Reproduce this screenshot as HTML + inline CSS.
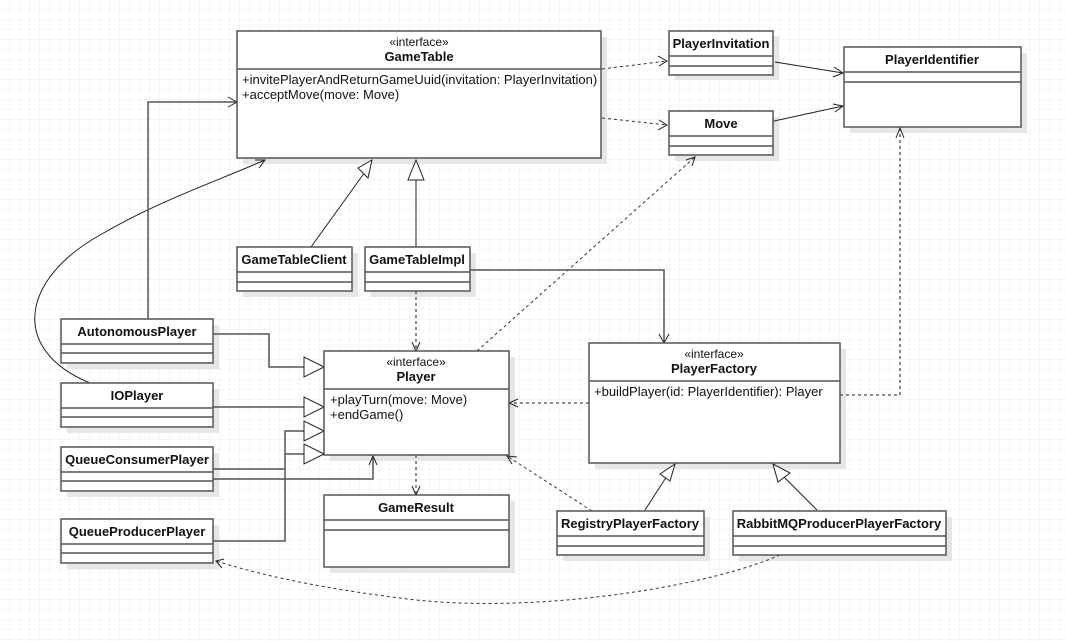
<!DOCTYPE html>
<html><head><meta charset="utf-8"><style>
html,body{margin:0;padding:0;background:#fff}
svg{display:block}
text{font-family:"Liberation Sans",Arial,sans-serif;font-size:13px;fill:#111}
.b{font-weight:bold;text-anchor:middle;font-size:13px}
.c{text-anchor:middle;font-size:12px}
.box{fill:#fff;stroke:#555;stroke-width:1.5}
.sh{fill:#e6e6e6}
.ln{stroke:#555;stroke-width:1.5}
.s{fill:none;stroke:#222;stroke-width:1}
.d{fill:none;stroke:#333;stroke-width:1;stroke-dasharray:3,3}
.d2{fill:none;stroke:#666;stroke-width:1.5;stroke-dasharray:3,3}
.tri{fill:#fff;stroke:#222;stroke-width:1}
</style></head><body>
<svg width="1065" height="641" viewBox="0 0 1065 641">
<defs>
<pattern id="g" width="10" height="10" patternUnits="userSpaceOnUse">
<path d="M10 0V10H0" fill="none" stroke="#ececec" stroke-width="1"/>
</pattern>
</defs>
<rect width="1065" height="641" fill="url(#g)"/>

<g class="sh">
<rect x="243" y="37" width="364" height="127"/>
<rect x="675" y="36" width="104" height="44"/>
<rect x="675" y="117" width="104" height="44"/>
<rect x="850" y="53" width="177" height="80"/>
<rect x="243" y="253" width="115" height="44"/>
<rect x="371" y="253" width="105" height="44"/>
<rect x="67" y="325" width="152" height="44"/>
<rect x="67" y="389" width="152" height="44"/>
<rect x="67" y="453" width="152" height="44"/>
<rect x="67" y="525" width="152" height="44"/>
<rect x="330" y="357" width="185" height="104"/>
<rect x="330" y="501" width="185" height="72"/>
<rect x="595" y="349" width="251" height="120"/>
<rect x="563" y="517" width="147" height="44"/>
<rect x="739" y="517" width="213" height="44"/>
</g>

<path class="d" d="M602 69 L667 61"/><path class="s" d="M658 56 L667 61 L659 66"/>
<path class="d" d="M602 118 L667 125"/><path class="s" d="M659 120 L667 125 L658 130"/>
<path class="s" d="M775 62 L843 73"/><path class="s" d="M834 67 L843 73 L833 77"/>
<path class="s" d="M774 121 L843 106"/><path class="s" d="M833 104 L843 106 L835 112"/>
<path class="d2" d="M840 395 L900 395 L900 129"/><path class="s" d="M896 138 L900 128 L904 138"/>
<path class="d" d="M477 351 L695 157"/><path class="s" d="M686 160 L695 157 L692 166"/>
<path class="d" d="M592 511 L507 456"/><path class="s" d="M512 464 L507 456 L517 457"/>
<path class="d" d="M780 555 C700 590 520 615 400 598 C320 588 260 575 216 561"/><path class="s" d="M224 559 L216 561 L222 568"/>
<path class="s" d="M90 383 C10 350 20 280 100 235 C160 200 220 180 265 160"/><path class="s" d="M255 160 L265 160 L259 168"/>
<path class="ln" d="M148 319 L148 102 L236 102" fill="none"/><path class="s" d="M228 97 L237 102 L228 107"/>
<path class="d2" d="M416 291 L416 350"/><path class="s" d="M412 342 L416 351 L420 342"/>
<path class="ln" d="M470 270 L664 270 L664 342" fill="none"/><path class="s" d="M659 334 L664 343 L669 334"/>
<path class="d2" d="M589 403 L510 403"/><path class="s" d="M518 399 L509 403 L518 407"/>
<path class="d2" d="M416 455 L416 494"/><path class="s" d="M412 486 L416 495 L420 486"/>
<path class="s" d="M311 247 L365 172"/><polygon class="tri" points="372,160 358,168 368,178"/>
<path class="s" d="M416 247 L416 180"/><polygon class="tri" points="416,160 408,180 424,180"/>
<path class="s" d="M645 510 L667 476"/><polygon class="tri" points="675,464 660,474 670,481"/>
<path class="s" d="M817 510 L783 476"/><polygon class="tri" points="773,464 778,482 790,473"/>
<path class="ln" d="M213 334 L269 334 L269 367 L304 367" fill="none"/>
<path class="ln" d="M213 407 L304 407" fill="none"/>
<path class="ln" d="M213 541 L285 541 L285 431 L304 431" fill="none"/>
<path class="ln" d="M213 469 L285 469 M285 454 L304 454" fill="none"/>
<path class="ln" d="M213 479 L373 479 L373 456" fill="none"/><path class="s" d="M369 465 L373 456 L377 465"/>
<polygon class="tri" points="324,367 304,357 304,377"/>
<polygon class="tri" points="324,407 304,397 304,417"/>
<polygon class="tri" points="324,431 304,421 304,441"/>
<polygon class="tri" points="324,454 304,444 304,464"/>

<rect class="box" x="237" y="31" width="364" height="127"/>
<line class="ln" x1="237" y1="69" x2="601" y2="69"/>
<text class="c" x="419" y="46">«interface»</text>
<text class="b" x="419" y="61">GameTable</text>
<text x="242" y="84">+invitePlayerAndReturnGameUuid(invitation: PlayerInvitation)</text>
<text x="242" y="99">+acceptMove(move: Move)</text>

<rect class="box" x="669" y="31" width="104" height="44"/>
<line class="ln" x1="669" y1="56" x2="773" y2="56"/><line class="ln" x1="669" y1="66" x2="773" y2="66"/>
<text class="b" x="721" y="48">PlayerInvitation</text>
<rect class="box" x="669" y="111" width="104" height="44"/>
<line class="ln" x1="669" y1="136" x2="773" y2="136"/><line class="ln" x1="669" y1="146" x2="773" y2="146"/>
<text class="b" x="721" y="128">Move</text>
<rect class="box" x="844" y="47" width="177" height="80"/>
<line class="ln" x1="844" y1="72" x2="1021" y2="72"/><line class="ln" x1="844" y1="82" x2="1021" y2="82"/>
<text class="b" x="932" y="64">PlayerIdentifier</text>

<rect class="box" x="237" y="247" width="115" height="44"/>
<line class="ln" x1="237" y1="272" x2="352" y2="272"/><line class="ln" x1="237" y1="282" x2="352" y2="282"/>
<text class="b" x="294" y="264">GameTableClient</text>
<rect class="box" x="365" y="247" width="105" height="44"/>
<line class="ln" x1="365" y1="272" x2="470" y2="272"/><line class="ln" x1="365" y1="282" x2="470" y2="282"/>
<text class="b" x="417" y="264">GameTableImpl</text>

<rect class="box" x="61" y="319" width="152" height="44"/>
<line class="ln" x1="61" y1="344" x2="213" y2="344"/><line class="ln" x1="61" y1="353" x2="213" y2="353"/>
<text class="b" x="137" y="336">AutonomousPlayer</text>
<rect class="box" x="61" y="383" width="152" height="44"/>
<line class="ln" x1="61" y1="408" x2="213" y2="408"/><line class="ln" x1="61" y1="417" x2="213" y2="417"/>
<text class="b" x="137" y="400">IOPlayer</text>
<rect class="box" x="61" y="447" width="152" height="44"/>
<line class="ln" x1="61" y1="472" x2="213" y2="472"/><line class="ln" x1="61" y1="481" x2="213" y2="481"/>
<text class="b" x="137" y="464">QueueConsumerPlayer</text>
<rect class="box" x="61" y="519" width="152" height="44"/>
<line class="ln" x1="61" y1="544" x2="213" y2="544"/><line class="ln" x1="61" y1="553" x2="213" y2="553"/>
<text class="b" x="137" y="536">QueueProducerPlayer</text>

<rect class="box" x="324" y="351" width="185" height="104"/>
<line class="ln" x1="324" y1="389" x2="509" y2="389"/>
<text class="c" x="416" y="366">«interface»</text>
<text class="b" x="416" y="381">Player</text>
<text x="330" y="404">+playTurn(move: Move)</text>
<text x="330" y="419">+endGame()</text>
<rect class="box" x="324" y="495" width="185" height="72"/>
<line class="ln" x1="324" y1="520" x2="509" y2="520"/><line class="ln" x1="324" y1="530" x2="509" y2="530"/>
<text class="b" x="416" y="512">GameResult</text>

<rect class="box" x="589" y="343" width="251" height="120"/>
<line class="ln" x1="589" y1="381" x2="840" y2="381"/>
<text class="c" x="714" y="358">«interface»</text>
<text class="b" x="714" y="373">PlayerFactory</text>
<text x="594" y="396">+buildPlayer(id: PlayerIdentifier): Player</text>
<rect class="box" x="557" y="511" width="147" height="44"/>
<line class="ln" x1="557" y1="536" x2="704" y2="536"/><line class="ln" x1="557" y1="546" x2="704" y2="546"/>
<text class="b" x="630" y="528">RegistryPlayerFactory</text>
<rect class="box" x="733" y="511" width="213" height="44"/>
<line class="ln" x1="733" y1="536" x2="946" y2="536"/><line class="ln" x1="733" y1="546" x2="946" y2="546"/>
<text class="b" x="839" y="528">RabbitMQProducerPlayerFactory</text>
</svg>
</body></html>
